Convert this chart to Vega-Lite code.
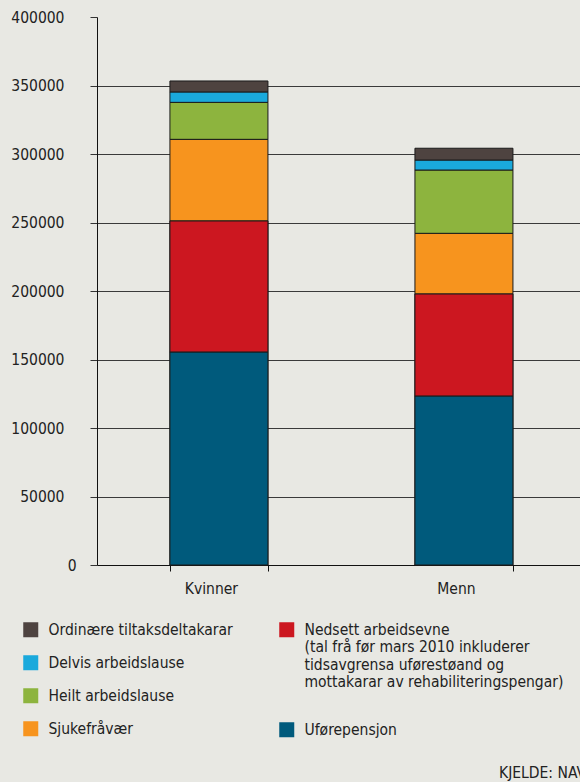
{
  "$schema": "https://vega.github.io/schema/vega-lite/v6.json",
  "width": 483,
  "height": 548,
  "autosize": {"type": "none"},
  "padding": {"left": 97, "top": 17, "right": 0, "bottom": 217},
  "background": "#e8e8e3",
  "title": {
    "text": "KJELDE: NAV",
    "orient": "bottom",
    "anchor": "end",
    "frame": "group",
    "fontSize": 15.5,
    "fontWeight": "normal",
    "color": "#222222",
    "offset": 27,
    "dx": 6
  },
  "config": {
    "font": "DejaVu Sans Condensed",
    "view": {"stroke": null},
    "axis": {"labelColor": "#222222", "labelFontSize": 15.5, "title": null},
    "legend": {
      "symbolType": "square",
      "symbolSize": 225,
      "symbolStrokeWidth": 0,
      "symbolOpacity": 1,
      "labelOffset": 10,
      "labelFontSize": 15.5,
      "labelColor": "#222222",
      "labelLimit": 400,
      "rowPadding": 16,
      "padding": 0,
      "direction": "vertical"
    }
  },
  "data": {
    "values": [
      {"group": "Kvinner", "category": "Uførepensjon", "value": 155500},
      {"group": "Kvinner", "category": "Nedsett arbeidsevne", "value": 95600},
      {"group": "Kvinner", "category": "Sjukefråvær", "value": 59600},
      {"group": "Kvinner", "category": "Heilt arbeidslause", "value": 27000},
      {"group": "Kvinner", "category": "Delvis arbeidslause", "value": 7600},
      {"group": "Kvinner", "category": "Ordinære tiltaksdeltakarar", "value": 8000},
      {"group": "Menn", "category": "Uførepensjon", "value": 123400},
      {"group": "Menn", "category": "Nedsett arbeidsevne", "value": 74400},
      {"group": "Menn", "category": "Sjukefråvær", "value": 44300},
      {"group": "Menn", "category": "Heilt arbeidslause", "value": 46200},
      {"group": "Menn", "category": "Delvis arbeidslause", "value": 7300},
      {"group": "Menn", "category": "Ordinære tiltaksdeltakarar", "value": 8600}
    ]
  },
  "transform": [
    {"stack": "value", "groupby": ["group"], "as": ["y0", "y1"]}
  ],
  "encoding": {
    "x": {
      "field": "group",
      "type": "nominal",
      "sort": ["Kvinner", "Menn"],
      "scale": {"paddingInner": 0.6, "paddingOuter": 0.2857, "align": 0.521},
      "axis": {
        "labelAngle": 0,
        "domainColor": "#111111",
        "tickColor": "#111111",
        "tickBand": "extent",
        "tickSize": 6,
        "labelPadding": 10,
        "labelOffset": -8
      }
    },
    "y": {
      "field": "y1",
      "type": "quantitative",
      "scale": {"domain": [0, 400000], "nice": false},
      "axis": {
        "values": [0, 50000, 100000, 150000, 200000, 250000, 300000, 350000, 400000],
        "format": "d",
        "domainColor": "#111111",
        "tickColor": "#333333",
        "tickSize": 7,
        "labelPadding": {"condition": {"test": "datum.value == 0", "value": 14}, "value": 26},
        "grid": true,
        "gridColor": "#3a3a3a",
        "gridOpacity": {"condition": {"test": "datum.value == 400000 || datum.value == 0", "value": 0}, "value": 1}
      }
    },
    "y2": {"field": "y0"}
  },
  "layer": [
    {
      "mark": {"type": "bar", "stroke": "#1a1a1a", "strokeWidth": 1},
      "encoding": {
        "color": {
          "field": "category",
          "type": "nominal",
          "scale": {
            "domain": ["Ordinære tiltaksdeltakarar", "Delvis arbeidslause", "Heilt arbeidslause", "Sjukefråvær", "Nedsett arbeidsevne", "Uførepensjon"],
            "range": ["#4e4340", "#1aa9dc", "#8db43e", "#f7941e", "#cc1720", "#005a7c"]
          },
          "legend": {
            "title": null,
            "values": ["Ordinære tiltaksdeltakarar", "Delvis arbeidslause", "Heilt arbeidslause", "Sjukefråvær"],
            "orient": "none",
            "legendX": -74,
            "legendY": 605
          }
        }
      }
    },
    {
      "transform": [
        {"filter": {"field": "category", "oneOf": ["Nedsett arbeidsevne", "Uførepensjon"]}}
      ],
      "mark": {"type": "bar", "stroke": "#1a1a1a", "strokeWidth": 1},
      "encoding": {
        "fill": {
          "field": "category",
          "type": "nominal",
          "scale": {
            "domain": ["Nedsett arbeidsevne", "Uførepensjon"],
            "range": ["#cc1720", "#005a7c"]
          },
          "legend": {
            "title": null,
            "orient": "none",
            "legendX": 182,
            "legendY": 605,
            "rowPadding": 31,
            "labelExpr": "datum.label == 'Nedsett arbeidsevne' ? ['Nedsett arbeidsevne', '(tal frå før mars 2010 inkluderer', 'tidsavgrensa uførestøand og', 'mottakarar av rehabiliteringspengar)'] : datum.label"
          }
        }
      }
    }
  ]
}
